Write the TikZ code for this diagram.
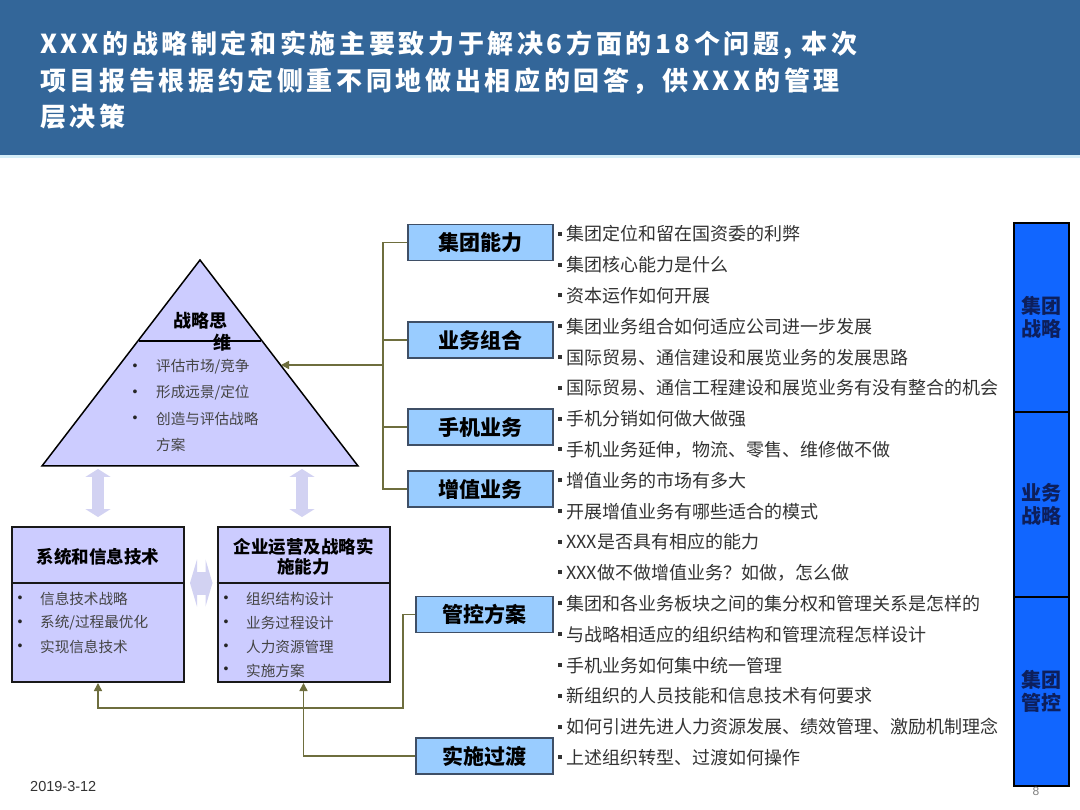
\documentclass[tikz,border=0pt]{standalone}
\usepackage{fontspec}
\setmainfont{Noto Sans CJK SC}
\newfontfamily\titlefont{Noto Sans CJK SC}[LetterSpace=14]
\newfontfamily\datefont{Liberation Sans}
\usetikzlibrary{arrows.meta, positioning}

\definecolor{bannerblue}{HTML}{336699}
\definecolor{bannerrim}{HTML}{D6EEF8}
\definecolor{lavender}{HTML}{CCCCFF}
\definecolor{arrowlav}{HTML}{D2D2F2}
\definecolor{topicblue}{HTML}{99CCFF}
\definecolor{topicedge}{HTML}{3F4F66}
\definecolor{wireolive}{HTML}{6E6E3E}
\definecolor{stripblue}{HTML}{1166FF}
\definecolor{stripink}{HTML}{0D1F5C}
\definecolor{inkgray}{HTML}{333333}
\definecolor{softgray}{HTML}{444444}

\newcommand{\qmark}{\rule[5pt]{4pt}{4pt}\hspace{4pt}}

\begin{document}
\begin{tikzpicture}[x=1pt, y=-1pt,
  headline/.style={anchor=west, inner sep=0pt, text=white,
                   font=\titlefont\bfseries\fontsize{26}{30}\selectfont},
  pyramid/.style={draw=black, line width=1.5pt, fill=lavender},
  pyrtitle/.style={inner sep=0pt, font=\bfseries\fontsize{18}{20}\selectfont},
  pyritem/.style={anchor=west, inner sep=0pt, text=softgray, font=\fontsize{14.6}{17}\selectfont},
  dot/.style={inner sep=0pt, text=black!85, font=\datefont\fontsize{14}{16}\selectfont},
  panel/.style={rectangle, draw=black!90, line width=2pt, fill=lavender,
                minimum width=172pt, minimum height=155pt, inner sep=0pt},
  panelrule/.style={draw=black!90, line width=1.5pt},
  paneltitle/.style={inner sep=0pt, align=center, font=\bfseries\fontsize{17.5}{20}\selectfont},
  topic/.style={rectangle, draw=topicedge, fill=topicblue, line width=1.5pt,
                minimum width=145pt, minimum height=36pt, inner sep=0pt,
                font=\bfseries\fontsize{21}{24}\selectfont},
  question/.style={anchor=west, inner sep=0pt, text=inkgray, font=\fontsize{18}{20}\selectfont},
  strip/.style={rectangle, draw=black, line width=2pt, fill=stripblue, outer sep=0pt,
                minimum width=55pt, inner sep=0pt, align=center, text=stripink,
                font=\bfseries\fontsize{20}{23}\selectfont},
  wire/.style={draw=wireolive, line width=1.6pt},
  arrow/.style={wire, -{Triangle[length=8pt, width=8pt]}},
  vdbl/.style={draw=arrowlav, line width=12pt,
               {Triangle[length=8pt, width=25pt]}-{Triangle[length=8pt, width=25pt]}},
  hdbl/.style={draw=arrowlav, line width=23pt,
               {Triangle[length=7pt, width=47pt]}-{Triangle[length=7pt, width=47pt]}}
]
\useasboundingbox (0,0) rectangle (1080,810);
\fill[white] (0,0) rectangle (1080,810);

% header band
\fill[bannerblue] (0,0) rectangle (1080,155);
\fill[bannerrim] (0,155) rectangle (1080,158);
\node[headline] (head1) at (40,45) {XXX的战略制定和实施主要致力于解决6方面的18个问题, 本次};
\node[headline] (head2) at (40,81) {项目报告根据约定侧重不同地做出相应的回答，供XXX的管理};
\node[headline] (head3) at (40,117) {层决策};

% pyramid
\coordinate (apex) at (200,260);
\coordinate (baseL) at (42,466);
\coordinate (baseR) at (358,466);
\filldraw[pyramid] (apex) -- (baseR) -- (baseL) -- cycle;
\draw[pyramid] (139,341) -- (261,341);
\node[pyrtitle] (think) at (200,321) {战略思};
\node[pyrtitle] (think2) at (222,343) {维};
\foreach \txt [count=\i] in {评估市场/竞争, 形成远景/定位, 创造与评估战略} {
  \node[dot] at (135,341+26*\i) {•};
  \node[pyritem] (p\i) at (156,341+26*\i) {\txt};
}
\node[pyritem] (p4) at (156,445) {方案};

% two panels below
\node[panel] (sysbox) at (98,604.5) {};
\node[panel] (opsbox) at (303.5,604.5) {};
\coordinate (rule) at (0,583);
\draw[panelrule] (sysbox.west |- rule) -- (sysbox.east |- rule);
\draw[panelrule] (opsbox.west |- rule) -- (opsbox.east |- rule);
\node[paneltitle] (systitle) at (98,557) {系统和信息技术};
\node[paneltitle] (opstitle) at (303.5,557) {企业运营及战略实\\施能力};
\foreach \txt [count=\i] in {信息技术战略, 系统/过程最优化, 实现信息技术} {
  \node[dot] at (20,575.5+23.8*\i) {•};
  \node[pyritem] (s\i) at (40,575.5+23.8*\i) {\txt};
}
\foreach \txt [count=\i] in {组织结构设计, 业务过程设计, 人力资源管理, 实施方案} {
  \node[dot] at (226,575.5+23.8*\i) {•};
  \node[pyritem] (o\i) at (246,575.5+23.8*\i) {\txt};
}

% light double arrows
\coordinate (footA) at (98,466);
\coordinate (footB) at (302,466);
\draw[vdbl, shorten <=3pt, shorten >=9pt] (footA) -- (sysbox.north);
\draw[vdbl, shorten <=3pt, shorten >=9pt] (footB) -- (opsbox.north -| footB);
\draw[hdbl, shorten <=5pt, shorten >=4pt] (sysbox.east |- rule) -- (opsbox.west |- rule);

% topic boxes
\node[topic] (cap) at (480.5,242.5) {集团能力};
\node[topic] (mix) at (480.5,340) {业务组合};
\node[topic] (mob) at (480.5,427) {手机业务};
\node[topic] (vas) at (480.5,489) {增值业务};
\node[topic, minimum width=137pt] (ctrl) at (484.5,614.5) {管控方案};
\node[topic, minimum width=137pt] (trans) at (484.5,756) {实施过渡};

% connectors
\coordinate (hub) at (383,365);
\coordinate (pyrside) at (281,365);
\foreach \n in {cap, mix, mob, vas}
  \draw[wire] (\n.west) -| (hub);
\draw[arrow] (hub) -- (pyrside);
\coordinate (ctrlbend) at (403,708);
\draw[arrow] (ctrl.west) -| (ctrlbend) -| (sysbox.south);
\draw[arrow] (trans.west) -| (opsbox.south);

% questions
\foreach \q [count=\i] in {集团定位和留在国资委的利弊, 集团核心能力是什么, 资本运作如何开展,
  集团业务组合如何适应公司进一步发展, 国际贸易、通信建设和展览业务的发展思路,
  国际贸易、通信工程建设和展览业务有没有整合的机会, 手机分销如何做大做强,
  手机业务延伸，物流、零售、维修做不做, 增值业务的市场有多大, 开展增值业务有哪些适合的模式,
  XXX是否具有相应的能力, XXX做不做增值业务？如做，怎么做,
  集团和各业务板块之间的集分权和管理关系是怎样的, 与战略相适应的组织结构和管理流程怎样设计,
  手机业务如何集中统一管理, 新组织的人员技能和信息技术有何要求,
  如何引进先进人力资源发展、绩效管理、激励机制理念, 上述组织转型、过渡如何操作}
  \node[question] (q\i) at (558,203.2+30.8*\i) {\qmark\q};

% right strip
\node[strip, minimum height=189pt] (grp) at (1041.5,317.5) {集团\\战略};
\node[strip, minimum height=185pt, below=0pt of grp] (biz) {业务\\战略};
\node[strip, minimum height=189pt, below=0pt of biz] (gov) {集团\\管控};

% footer
\node[anchor=west, inner sep=0pt, text=inkgray, font=\datefont\fontsize{14.5}{16}\selectfont] (date) at (30,787) {2019-3-12};
\node[inner sep=0pt, text=gray, font=\datefont\fontsize{12}{14}\selectfont] (pageno) at (1036,791) {8};
\end{tikzpicture}
\end{document}
